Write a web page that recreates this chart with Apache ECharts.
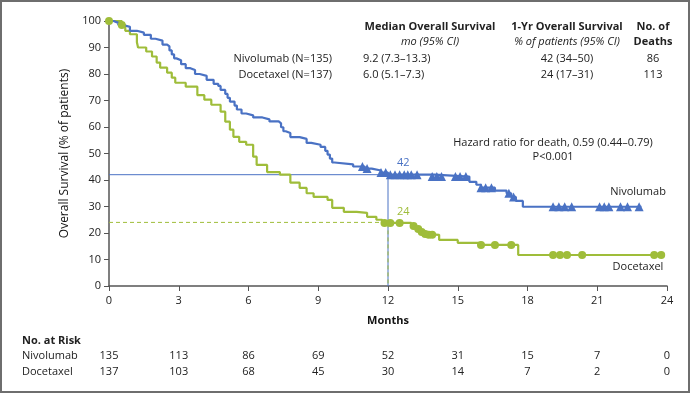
<!DOCTYPE html>
<html><head><meta charset="utf-8">
<script src="https://cdn.jsdelivr.net/npm/echarts@6/dist/echarts.min.js"></script>
<style>html,body{margin:0;padding:0;background:#fff}#c{width:690px;height:393px}</style>
</head><body><div id="c"></div>
<script>
var FONT = '"Open Sans", "Noto Sans", sans-serif';
var BLUE = '#4a72c4';
var GREEN = '#9fbd3a';

var xTicks = [0, 3, 6, 9, 12, 15, 18, 21, 24];
var nivoAtRisk = [135, 113, 86, 69, 52, 31, 15, 7, 0];
var doceAtRisk = [137, 103, 68, 45, 30, 14, 7, 2, 0];

// Kaplan-Meier steps: [month, survival %]
var nivoSteps = [[0,100],[0.2,99.3],[0.4,98.5],[0.6,97.8],[0.9,96.3],[1.2,95.6],[1.5,94.8],[1.8,93.3],[2.0,92.6],[2.3,91.1],[2.5,90.4],[2.6,88.9],[2.7,87.4],[2.8,85.9],[2.9,85.2],[3.1,83.7],[3.3,82.2],[3.5,81.5],[3.7,80.0],[3.9,79.3],[4.2,77.8],[4.5,76.3],[4.7,75.5],[4.8,74.0],[5.0,72.5],[5.1,71.0],[5.2,69.6],[5.4,68.1],[5.5,66.6],[5.7,65.1],[5.9,64.4],[6.2,63.6],[6.6,62.9],[6.9,62.1],[7.3,61.4],[7.4,59.9],[7.5,58.4],[7.6,57.7],[7.8,56.2],[8.2,55.5],[8.5,54.0],[8.7,53.3],[9.1,52.5],[9.3,51.0],[9.4,49.6],[9.5,48.1],[9.6,46.6],[9.7,45.9],[10.5,45.1],[11.0,44.3],[11.3,43.6],[11.7,42.8],[12.0,42.0],[14.0,41.3],[15.5,39.3],[15.8,38.2],[16.0,37.1],[16.6,36.0],[17.1,35.0],[17.3,33.6],[17.5,32.1],[17.8,29.9],[22.9,29.9]];
var nivoCensor = [[10.9,45.1],[11.1,44.3],[11.7,42.8],[11.9,42.8],[12.1,42.0],[12.3,42.0],[12.5,42.0],[12.7,42.0],[12.85,42.0],[13.0,42.0],[13.25,42.0],[13.9,41.3],[14.1,41.3],[14.3,41.3],[14.9,41.3],[15.1,41.3],[15.35,41.3],[16.0,37.1],[16.2,37.1],[16.45,37.1],[17.2,35.0],[17.4,33.6],[19.1,29.9],[19.35,29.9],[19.6,29.9],[19.9,29.9],[21.1,29.9],[21.3,29.9],[21.5,29.9],[22.0,29.9],[22.3,29.9],[22.8,29.9]];

var doceSteps = [[0,100],[0.55,98.5],[0.7,96.3],[0.9,95.0],[1.2,92.0],[1.25,90.0],[1.6,88.5],[1.85,86.6],[2.05,84.3],[2.2,82.4],[2.5,80.5],[2.7,78.6],[2.85,76.7],[3.3,75.2],[3.8,72.0],[4.1,70.3],[4.4,68.4],[4.8,65.8],[5.0,62.0],[5.2,59.0],[5.35,56.3],[5.6,54.4],[5.9,53.3],[6.2,48.8],[6.35,45.7],[6.8,43.0],[7.35,42.0],[7.8,39.0],[8.2,37.0],[8.5,35.0],[8.8,33.6],[9.4,32.5],[9.6,29.5],[10.1,28.0],[10.65,27.6],[11.1,26.1],[11.5,25.0],[11.75,23.8],[13.0,22.6],[13.2,21.5],[13.35,20.4],[13.5,19.6],[13.7,19.3],[14.2,17.4],[15.0,16.3],[15.9,15.5],[17.6,11.7],[23.8,11.7]];
var doceCensor = [[0,100],[0.55,98.5],[11.85,23.8],[12.1,23.8],[12.5,23.8],[13.1,22.6],[13.3,21.5],[13.45,20.4],[13.6,19.6],[13.75,19.3],[13.9,19.3],[16.0,15.5],[16.6,15.5],[17.3,15.5],[19.1,11.7],[19.4,11.7],[19.7,11.7],[20.35,11.7],[23.45,11.7],[23.75,11.7]];

var landmarkMonth = 12;
var nivoOneYr = 42, doceOneYr = 24;

var chart = echarts.init(document.getElementById('c'));
var txt = {fontFamily: FONT, fontSize: 11, fill: '#222'};
function TA(x, y, s, align, extra) { return {type:'text', x:x, y:y, style: Object.assign({}, txt, {text:s, align:align, verticalAlign:'middle'}, extra||{})}; }

var option = {
  animation: false,
  grid: {left: 109, right: 23, top: 21, bottom: 107, containLabel: false},
  xAxis: {type:'value', min:0, max:24, interval:3,
    axisLine:{lineStyle:{color:'#555', width:1.5}},
    axisTick:{length:5, lineStyle:{color:'#555'}},
    axisLabel:{color:'#222', fontFamily:FONT, fontSize:11, margin:9},
    splitLine:{show:false},
    name:'Months', nameLocation:'middle', nameGap:29,
    nameTextStyle:{fontFamily:FONT, fontSize:11, fontWeight:'bold', color:'#111'}},
  yAxis: {type:'value', min:0, max:100, interval:10,
    axisLine:{show:true, lineStyle:{color:'#555', width:1.5}},
    axisTick:{show:true, length:5, lineStyle:{color:'#555'}},
    axisLabel:{color:'#222', fontFamily:FONT, fontSize:11, margin:8},
    splitLine:{show:false},
    name:'Overall Survival (% of patients)', nameLocation:'middle', nameGap:38,
    nameTextStyle:{fontFamily:FONT, fontSize:12, color:'#111'}},
  series: [
    {type:'line', data:[[0,nivoOneYr],[landmarkMonth,nivoOneYr],[landmarkMonth,0]], symbol:'none', lineStyle:{color:BLUE, width:1}, z:1},
    {type:'line', data:[[0,doceOneYr],[landmarkMonth,doceOneYr],[landmarkMonth,0]], symbol:'none', lineStyle:{color:GREEN, width:1, type:[4,3]}, z:1},
    {type:'line', step:'end', data:doceSteps, symbol:'none', lineStyle:{color:GREEN, width:2.2}, z:3},
    {type:'line', step:'end', data:nivoSteps, symbol:'none', lineStyle:{color:BLUE, width:2.2}, z:3},
    {type:'scatter', data:doceCensor, symbol:'circle', symbolSize:8, itemStyle:{color:GREEN, opacity:1}, z:4},
    {type:'scatter', data:nivoCensor, symbol:'triangle', symbolSize:9, itemStyle:{color:BLUE, opacity:1}, z:4}
  ]
};
chart.setOption(option);

var g = [];
g.push({type:'rect', shape:{x:1, y:1, width:688, height:391}, style:{fill:'none', stroke:'#6e6e6e', lineWidth:2}, silent:true});
g.push(TA(430, 27, 'Median Overall Survival', 'center', {fontWeight:'bold'}));
g.push(TA(430, 42, 'mo (95% CI)', 'center', {fontStyle:'italic'}));
g.push(TA(567, 27, '1-Yr Overall Survival', 'center', {fontWeight:'bold'}));
g.push(TA(567, 42, '% of patients (95% CI)', 'center', {fontStyle:'italic'}));
g.push(TA(653, 27, 'No. of', 'center', {fontWeight:'bold'}));
g.push(TA(653, 42, 'Deaths', 'center', {fontWeight:'bold'}));
g.push(TA(332, 59, 'Nivolumab (N=135)', 'right'));
g.push(TA(332, 75, 'Docetaxel (N=137)', 'right'));
g.push(TA(363, 59, '9.2 (7.3\u201313.3)', 'left'));
g.push(TA(363, 75, '6.0 (5.1\u20137.3)', 'left'));
g.push(TA(567, 59, '42 (34\u201350)', 'center'));
g.push(TA(567, 75, '24 (17\u201331)', 'center'));
g.push(TA(653, 59, '86', 'center'));
g.push(TA(653, 75, '113', 'center'));
g.push(TA(553, 143, 'Hazard ratio for death, 0.59 (0.44\u20130.79)', 'center'));
g.push(TA(553, 157, 'P<0.001', 'center'));
g.push(TA(638, 192, 'Nivolumab', 'center'));
g.push(TA(638, 267, 'Docetaxel', 'center'));
var p42 = chart.convertToPixel({gridIndex:0}, [landmarkMonth, nivoOneYr]);
var p24 = chart.convertToPixel({gridIndex:0}, [landmarkMonth, doceOneYr]);
g.push(TA(p42[0] + 9, p42[1] - 12, String(nivoOneYr), 'left', {fill:BLUE}));
g.push(TA(p24[0] + 9, p24[1] - 11, String(doceOneYr), 'left', {fill:GREEN}));
g.push(TA(22, 341, 'No. at Risk', 'left', {fontWeight:'bold'}));
g.push(TA(22, 356, 'Nivolumab', 'left'));
g.push(TA(22, 372, 'Docetaxel', 'left'));
xTicks.forEach(function (t, i) {
  var px = chart.convertToPixel({xAxisIndex:0}, t);
  g.push(TA(px, 356, String(nivoAtRisk[i]), 'center'));
  g.push(TA(px, 372, String(doceAtRisk[i]), 'center'));
});
chart.setOption({graphic: g});
</script></body></html>
